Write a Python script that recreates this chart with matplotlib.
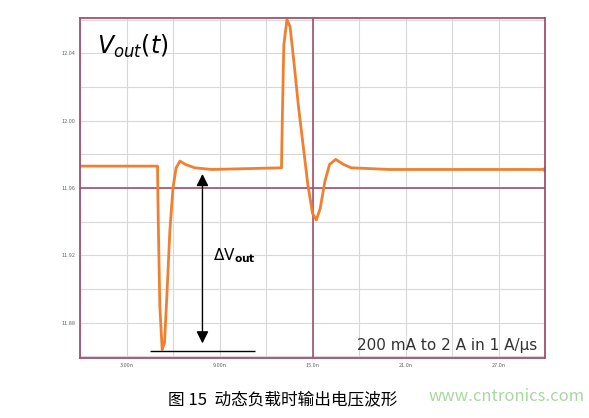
import matplotlib.pyplot as plt
import numpy as np

plt.rcParams['font.family'] = ['Noto Sans CJK SC', 'DejaVu Sans']

# waveform key points (time in ns, voltage in V)
t = [0, 5.0, 5.05, 5.15, 5.3, 5.45, 5.6, 5.8, 6.0, 6.2, 6.45, 6.8, 7.4, 8.5, 13.0,
     13.05, 13.15, 13.35, 13.55, 13.8, 14.1, 14.4, 14.7, 15.0, 15.25, 15.5, 15.8, 16.1,
     16.5, 17.0, 17.5, 20, 25, 30]
v = [11.973, 11.973, 11.94, 11.89, 11.864, 11.868, 11.895, 11.935, 11.960, 11.972, 11.976, 11.974,
     11.972, 11.971, 11.972,
     12.00, 12.045, 12.060, 12.056, 12.035, 12.008, 11.985, 11.962, 11.945, 11.941, 11.948,
     11.964, 11.974, 11.977, 11.974, 11.972, 11.971, 11.971, 11.971]

yticks = [11.88, 11.92, 11.96, 12.00, 12.04]
xticks = [3, 9, 15, 21, 27]
xtick_labels = ['3.00n', '9.00n', '15.0n', '21.0n', '27.0n']

fig = plt.figure(figsize=(5.89, 4.18), dpi=100)
ax = fig.add_axes([80 / 589, 60 / 418, 465 / 589, 340 / 418])

ax.set_xlim(0, 30)
ax.set_ylim(11.859, 12.061)
ax.set_xticks(xticks)
ax.set_xticklabels(xtick_labels)
ax.set_yticks(yticks)
ax.set_yticklabels(['%.2f' % y for y in yticks])
ax.set_xticks(np.arange(0, 31, 3), minor=True)
ax.set_yticks(np.arange(11.86, 12.07, 0.02), minor=True)
ax.tick_params(which='both', length=0, labelsize=4, colors='#666666')
ax.grid(which='both', color='#d8d8d8', lw=0.8)
for s in ax.spines.values():
    s.set_color('#a05070')
    s.set_linewidth(1.3)
ax.axvline(15, color='#a05070', lw=1.2)
ax.axhline(11.96, color='#a05070', lw=1.2)

ax.plot(t, v, color='#f08030', lw=2)
ax.plot(t[-1], v[-1], 'o', color='#f08030', ms=3)

# annotation
ax.hlines(11.863, 4.5, 11.3, color='black', lw=1)
ax.annotate('', xy=(7.9, 11.866), xytext=(7.9, 11.97),
            arrowprops=dict(arrowstyle='<|-|>', color='black', lw=1, mutation_scale=18))
ax.text(8.6, 11.917, r'$\Delta$V$_{\mathbf{out}}$', fontsize=11, family='DejaVu Sans')
ax.text(1.1, 12.04, r'$V_{out}(t)$', fontsize=17, family='DejaVu Sans')
ax.text(29.5, 11.862, '200 mA to 2 A in 1 A/μs', fontsize=11, ha='right', va='bottom',
        color='#333333', family='DejaVu Sans')

fig.text(0.48, 0.032, '图 15  动态负载时输出电压波形', fontsize=12, ha='center')
fig.text(0.86, 0.04, 'www.cntronics.com', fontsize=12, ha='center', color='#a8d8a0')

fig.savefig('out.png', dpi=100)
